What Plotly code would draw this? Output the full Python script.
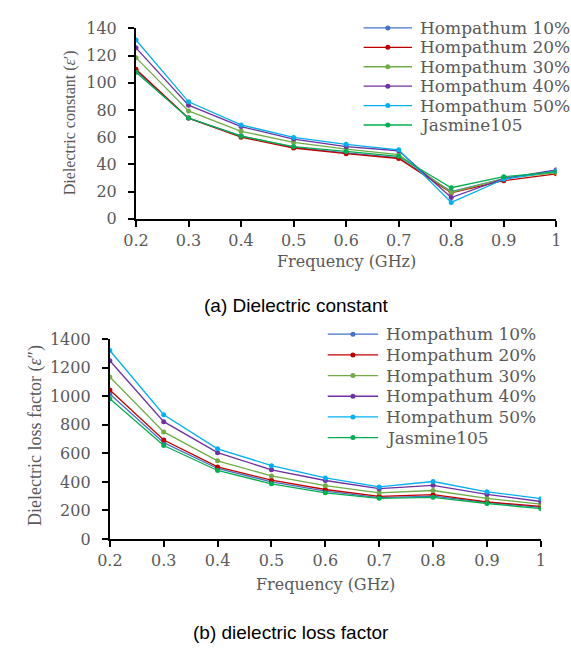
import plotly.graph_objects as go

# Frequency points (GHz)
freq = [0.2, 0.3, 0.4, 0.5, 0.6, 0.7, 0.8, 0.9, 1.0]

series_names = ["Hompathum 10%", "Hompathum 20%", "Hompathum 30%",
                "Hompathum 40%", "Hompathum 50%", "Jasmine105"]
series_colors = ["#4472C4", "#C00000", "#70AD47", "#7030A0", "#00B0F0", "#00B050"]

# (a) Dielectric constant ε'
eps_h10 = [109.0, 74.0, 61.0, 52.5, 48.5, 45.0, 20.0, 29.5, 35.5]
eps_h20 = [110.0, 74.0, 60.0, 52.0, 47.8, 44.3, 19.0, 28.0, 33.0]
eps_h30 = [118.5, 79.3, 64.3, 56.2, 51.2, 47.1, 19.3, 29.5, 34.0]
eps_h40 = [125.7, 83.5, 67.8, 58.6, 53.1, 50.0, 15.6, 29.5, 36.0]
eps_h50 = [131.5, 86.0, 69.0, 59.8, 54.7, 50.7, 12.0, 29.0, 35.2]
eps_jas = [107.8, 74.0, 60.7, 53.1, 49.5, 45.9, 22.8, 30.9, 34.5]

# (b) Dielectric loss factor ε''
loss_h10 = [1015, 675, 494, 401, 335, 290, 301, 257, 222]
loss_h20 = [1044, 693, 505, 412, 347, 299, 311, 260, 229]
loss_h30 = [1135, 750, 548, 442, 374, 324, 340, 285, 245]
loss_h40 = [1248, 822, 605, 485, 410, 353, 376, 313, 263]
loss_h50 = [1320, 870, 632, 514, 428, 365, 403, 331, 283]
loss_jas = [983, 655, 480, 387, 324, 285, 292, 249, 213]

eps_series = [eps_h10, eps_h20, eps_h30, eps_h40, eps_h50, eps_jas]
loss_series = [loss_h10, loss_h20, loss_h30, loss_h40, loss_h50, loss_jas]

x_ticks = [0.2, 0.3, 0.4, 0.5, 0.6, 0.7, 0.8, 0.9, 1.0]
x_ticktext = ["0.2", "0.3", "0.4", "0.5", "0.6", "0.7", "0.8", "0.9", "1"]

W, H = 571, 651
GRAY = "#595959"
SERIF = "DejaVu Serif"


def px(x):
    return x / W


def py(y):
    return 1 - y / H


fig = go.Figure()

for vals, name, col in zip(eps_series, series_names, series_colors):
    fig.add_trace(go.Scatter(x=freq, y=vals, name=name, mode="lines+markers",
                             line=dict(color=col, width=1.3),
                             marker=dict(color=col, size=5),
                             xaxis="x", yaxis="y", showlegend=False))
for vals, name, col in zip(loss_series, series_names, series_colors):
    fig.add_trace(go.Scatter(x=freq, y=vals, name=name, mode="lines+markers",
                             line=dict(color=col, width=1.3),
                             marker=dict(color=col, size=5),
                             xaxis="x2", yaxis="y2", showlegend=False))

axis_common = dict(showgrid=False, zeroline=False, showline=True,
                   linecolor="black", linewidth=2, ticks="outside",
                   ticklen=6, tickwidth=1.5, tickcolor="black",
                   tickfont=dict(family=SERIF, size=16, color=GRAY))

fig.update_layout(
    width=W, height=H,
    margin=dict(l=0, r=0, t=0, b=0),
    paper_bgcolor="white", plot_bgcolor="white",
    xaxis=dict(domain=[px(127), px(561)], range=[0.2, 1.0], anchor="y",
               tickvals=x_ticks, ticktext=x_ticktext, ticklabelstandoff=0,
               **axis_common),
    yaxis=dict(domain=[py(216), py(20)], range=[0, 140], anchor="x",
               tickvals=[0, 20, 40, 60, 80, 100, 120, 140],
               ticklabelstandoff=8, **axis_common),
    xaxis2=dict(domain=[px(100), px(545)], range=[0.2, 1.0], anchor="y2",
                tickvals=x_ticks, ticktext=x_ticktext, ticklabelstandoff=0,
                **axis_common),
    yaxis2=dict(domain=[py(546), py(340)], range=[0, 1400], anchor="x2",
                tickvals=[0, 200, 400, 600, 800, 1000, 1200, 1400],
                ticklabelstandoff=8, **axis_common),
)

annotations = [
    dict(text="Dielectric constant (<i>ε</i>′)", x=px(59), y=py(117.5),
         textangle=-90, font=dict(family="Liberation Serif", size=16, color=GRAY)),
    dict(text="Dielectric loss factor (<i>ε</i>″)", x=px(22.5), y=py(439),
         textangle=-90, font=dict(family="Liberation Serif", size=18, color=GRAY)),
    dict(text="Frequency (GHz)", x=px(344), y=py(260),
         font=dict(family=SERIF, size=16, color=GRAY)),
    dict(text="Frequency (GHz)", x=px(322.5), y=py(593),
         font=dict(family=SERIF, size=16, color=GRAY)),
    dict(text="(a) Dielectric constant", x=px(292), y=py(305),
         font=dict(family="Liberation Sans", size=19, color="black")),
    dict(text="(b) dielectric loss factor", x=px(287), y=py(642),
         font=dict(family="Liberation Sans", size=19, color="black")),
]
for a in annotations:
    a.update(xref="paper", yref="paper", showarrow=False,
             xanchor="center", yanchor="middle")

shapes = []


def add_legend(rows_y, x0, x1, xtext):
    xm = (x0 + x1) / 2
    for yrow, name, col in zip(rows_y, series_names, series_colors):
        shapes.append(dict(type="line", xref="paper", yref="paper",
                           x0=px(x0), x1=px(x1), y0=py(yrow), y1=py(yrow),
                           line=dict(color=col, width=1.3)))
        shapes.append(dict(type="circle", xref="paper", yref="paper",
                           xsizemode="pixel", ysizemode="pixel",
                           xanchor=px(xm), yanchor=py(yrow),
                           x0=-2.5, x1=2.5, y0=-2.5, y1=2.5,
                           fillcolor=col, line=dict(width=0)))
        annotations.append(dict(text=name, x=px(xtext), y=py(yrow),
                                xref="paper", yref="paper", showarrow=False,
                                xanchor="left", yanchor="middle",
                                font=dict(family=SERIF, size=17, color=GRAY)))


add_legend([19.5, 39.5, 59.5, 79.5, 99.5, 119.5], 362, 412, 418)
add_legend([335, 356.3, 377.6, 398.9, 420.2, 441.5], 325, 377, 383)

fig.update_layout(annotations=annotations, shapes=shapes)

fig.write_html("out.html")
